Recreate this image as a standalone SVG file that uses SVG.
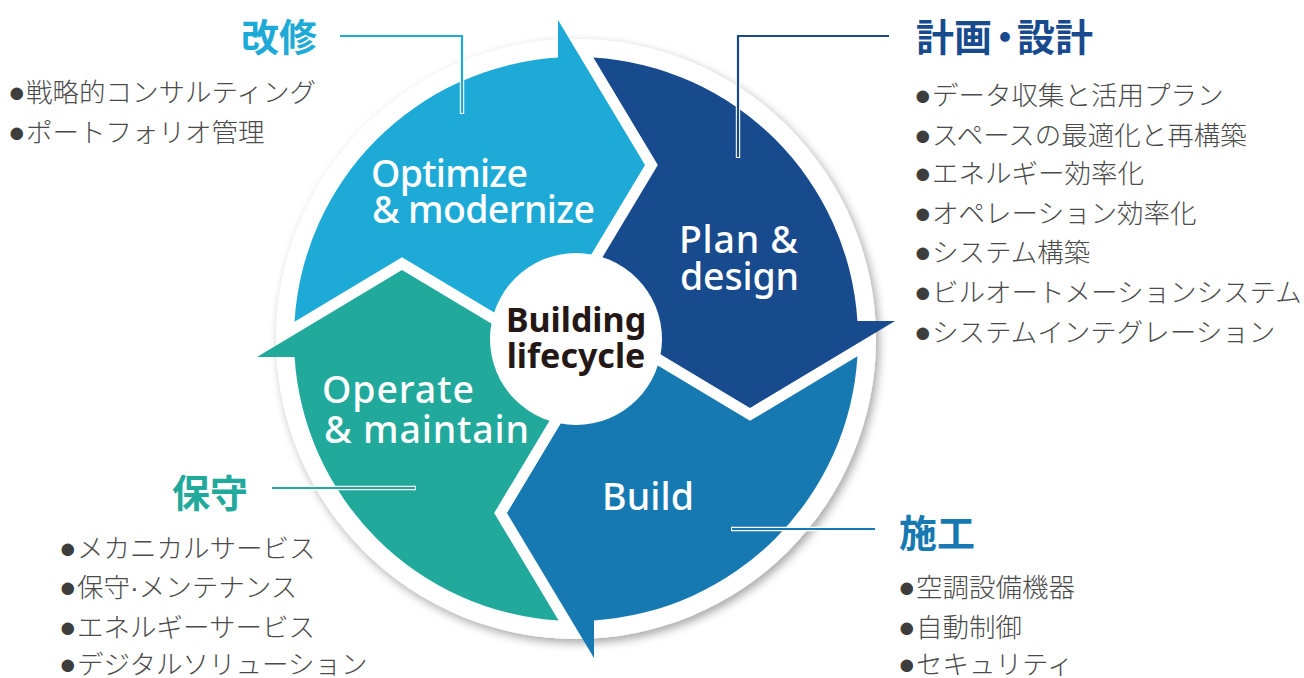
<svg xmlns="http://www.w3.org/2000/svg" width="1304" height="678" viewBox="0 0 1304 678">
  <defs>
    <filter id="disk-shadow" x="-15%" y="-15%" width="130%" height="130%">
      <feDropShadow dx="3" dy="4" stdDeviation="5" flood-color="#000" flood-opacity="0.35"/>
    </filter>
    <!-- one quarter of the cycle, centred on the origin: notch at the tail, head pointing clockwise -->
    <path id="arrow-shape" d="M -174,-81.83 L -281.47,-17.35 A 282 282 0 0 1 -18,-281.42 L -18,-319 L 69,-174 L -18,-29 L -23.34,8.57 Z"/>
  </defs>
  <style>
    .label { font-family: "Noto Sans", "Open Sans", "Liberation Sans", sans-serif; font-size: 37.5px; fill: #ffffff; font-weight: 500; }
    .hub { font-family: "Noto Sans", "Open Sans", "Liberation Sans", sans-serif; font-size: 34px; fill: #231815; font-weight: 700; text-anchor: middle; }
    .title { font-family: "Noto Sans CJK JP", sans-serif; font-size: 38px; font-weight: 700; }
    .item { font-family: "Liberation Sans", "Noto Sans CJK JP", sans-serif; font-size: 26.5px; fill: #4b4b4b; font-weight: 300; }
    .dot { font-size: 29px; fill: #3d3d3d; }
    .case { fill: none; stroke: #ffffff; stroke-width: 4.4; }
    .lead { fill: none; stroke-width: 2.2; }
  </style>

  <rect width="1304" height="678" fill="#ffffff"/>

  <!-- white backing disk -->
  <circle cx="576" cy="339" r="300" fill="#ffffff" filter="url(#disk-shadow)"/>

  <g id="optimize">
    <use href="#arrow-shape" transform="translate(576 339)" fill="#1eaad7"/>
    <text class="label"><tspan x="371" y="187" textLength="157" lengthAdjust="spacing">Optimize</tspan><tspan x="372" y="223" textLength="223" lengthAdjust="spacing">&amp; modernize</tspan></text>
  </g>
  <g id="plan">
    <use href="#arrow-shape" transform="translate(576 339) rotate(90)" fill="#184a8e"/>
    <text class="label"><tspan x="679" y="253" textLength="119" lengthAdjust="spacing">Plan &amp;</tspan><tspan x="680" y="290" textLength="119" lengthAdjust="spacing">design</tspan></text>
  </g>
  <g id="build">
    <use href="#arrow-shape" transform="translate(576 339) rotate(180)" fill="#1679b1"/>
    <text class="label" x="602" y="510" textLength="92" lengthAdjust="spacing">Build</text>
  </g>
  <g id="operate">
    <use href="#arrow-shape" transform="translate(576 339) rotate(270)" fill="#21a99c"/>
    <text class="label"><tspan x="322" y="403" textLength="152" lengthAdjust="spacing">Operate</tspan><tspan x="324" y="443" textLength="205" lengthAdjust="spacing">&amp; maintain</tspan></text>
  </g>

  <g id="hub">
    <circle cx="576" cy="339" r="86" fill="#ffffff"/>
    <text class="hub"><tspan x="576" y="332">Building</tspan><tspan x="576" y="368">lifecycle</tspan></text>
  </g>

  <!-- leader lines from each phase to its service list -->
  <g id="connectors">
    <polyline class="case" points="340,36 462,36 462,114"/>
    <polyline class="lead" stroke="#1eaad7" points="340,36 462,36 462,113"/>
    <polyline class="case" points="889,36 738,36 738,158"/>
    <polyline class="lead" stroke="#184a8e" points="889,36 738,36 738,157"/>
    <polyline class="case" points="875,529 731,529"/>
    <polyline class="lead" stroke="#1679b1" points="875,529 732,529"/>
    <polyline class="case" points="272,488 416,488"/>
    <polyline class="lead" stroke="#21a99c" points="272,488 415,488"/>
  </g>

  <g id="list-optimize">
    <text class="title" x="241" y="51" fill="#1eaad7">改修</text>
    <text class="item" x="8" y="102"><tspan class="dot">●</tspan><tspan dx="0.5">戦略的コンサルティング</tspan></text>
    <text class="item" x="8" y="142"><tspan class="dot">●</tspan><tspan dx="0.5">ポートフォリオ管理</tspan></text>
  </g>

  <g id="list-plan">
    <text class="title" x="916" y="51" fill="#184a8e"><tspan>計画</tspan><tspan dx="-6">・</tspan><tspan dx="-7">設計</tspan></text>
    <text class="item" x="914" y="105"><tspan class="dot">●</tspan><tspan dx="0.5">データ収集と活用プラン</tspan></text>
    <text class="item" x="914" y="145"><tspan class="dot">●</tspan><tspan dx="0.5">スペースの最適化と再構築</tspan></text>
    <text class="item" x="914" y="183"><tspan class="dot">●</tspan><tspan dx="0.5">エネルギー効率化</tspan></text>
    <text class="item" x="914" y="223"><tspan class="dot">●</tspan><tspan dx="0.5">オペレーション効率化</tspan></text>
    <text class="item" x="914" y="262"><tspan class="dot">●</tspan><tspan dx="0.5">システム構築</tspan></text>
    <text class="item" x="914" y="302"><tspan class="dot">●</tspan><tspan dx="0.5">ビルオートメーションシステム</tspan></text>
    <text class="item" x="914" y="342"><tspan class="dot">●</tspan><tspan dx="0.5">システムインテグレーション</tspan></text>
  </g>

  <g id="list-build">
    <text class="title" x="899" y="547" fill="#1679b1">施工</text>
    <text class="item" x="898" y="597"><tspan class="dot">●</tspan><tspan dx="0.5">空調設備機器</tspan></text>
    <text class="item" x="898" y="637"><tspan class="dot">●</tspan><tspan dx="0.5">自動制御</tspan></text>
    <text class="item" x="898" y="674"><tspan class="dot">●</tspan><tspan dx="0.5">セキュリティ</tspan></text>
  </g>

  <g id="list-operate">
    <text class="title" x="172" y="507" fill="#21a99c">保守</text>
    <text class="item" x="59" y="558"><tspan class="dot">●</tspan><tspan dx="0.5">メカニカルサービス</tspan></text>
    <text class="item" x="59" y="597"><tspan class="dot">●</tspan><tspan dx="0.5">保守·メンテナンス</tspan></text>
    <text class="item" x="59" y="637"><tspan class="dot">●</tspan><tspan dx="0.5">エネルギーサービス</tspan></text>
    <text class="item" x="59" y="674"><tspan class="dot">●</tspan><tspan dx="0.5">デジタルソリューション</tspan></text>
  </g>
</svg>
